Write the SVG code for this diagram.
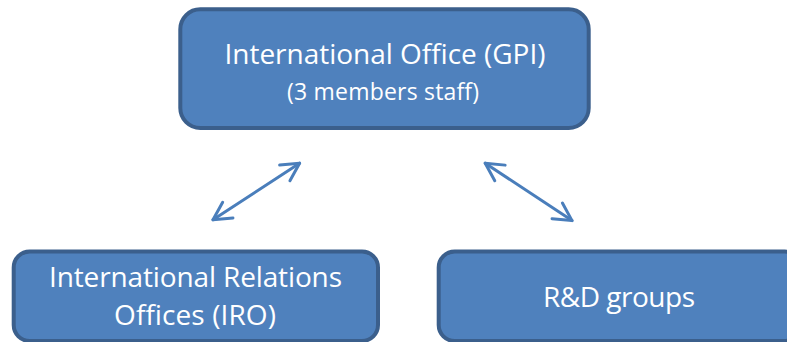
<svg xmlns="http://www.w3.org/2000/svg" width="787" height="342" viewBox="0 0 787 342">
<defs>
<style>
.box{fill:#4f81bd;stroke:#3b5f8c;stroke-width:4}
.t{fill:#ffffff;font-family:"Open Sans","Liberation Sans",sans-serif}
.big{font-size:28px}
.small{font-size:23px}
.conn{fill:none;stroke:#4a7ebb;stroke-width:3;stroke-linecap:round}
</style>
<marker id="ah" markerUnits="userSpaceOnUse" viewBox="-22 -12 24 24" refX="0" refY="0" markerWidth="24" markerHeight="24" orient="auto-start-reverse">
<path d="M-17.7,-9.4 L0,0 L-17.7,9.4" fill="none" stroke="#4a7ebb" stroke-width="3" stroke-linecap="round" stroke-linejoin="round"/>
</marker>
</defs>
<rect width="787" height="342" fill="#ffffff"/>
<g id="gpi">
<rect class="box" x="180.3" y="9.3" width="408.4" height="118.7" rx="20"/>
<text class="t big" x="224.5" y="64" textLength="321">International Office (GPI)</text>
<text class="t small" x="287" y="100" textLength="192">(3 members staff)</text>
</g>
<g id="iro">
<rect class="box" x="13.7" y="251.5" width="364.3" height="89.5" rx="16"/>
<text class="t big" x="49" y="287" textLength="293">International Relations</text>
<text class="t big" x="114" y="325" textLength="162">Offices (IRO)</text>
</g>
<g id="rd">
<rect class="box" x="438.7" y="251.5" width="362" height="89.5" rx="16"/>
<text class="t big" x="543" y="307" textLength="152">R&amp;D groups</text>
</g>
<g id="connectors">
<line class="conn" x1="213" y1="219.8" x2="299.6" y2="163.2" marker-start="url(#ah)" marker-end="url(#ah)"/>
<line class="conn" x1="485.2" y1="163.2" x2="572" y2="220.6" marker-start="url(#ah)" marker-end="url(#ah)"/>
</g>
</svg>
